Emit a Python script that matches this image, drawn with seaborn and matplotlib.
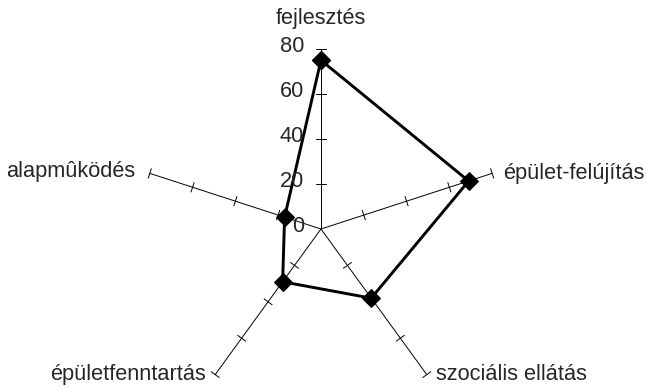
import numpy as np
import pandas as pd
import matplotlib
matplotlib.use("Agg")
import matplotlib.pyplot as plt
import seaborn as sns

# Categories (clockwise from the top) and their values
categories = ["fejlesztés", "épület-felújítás", "szociális ellátás",
              "épületfenntartás", "alapmûködés"]
values = [75, 69, 38, 29, 17]
tick_values = [0, 20, 40, 60, 80]
r_max = 80

sns.set_style("white")
plt.rcParams["font.family"] = ["Liberation Sans", "DejaVu Sans"]

fig = plt.figure(figsize=(6.47, 3.87), dpi=100)
ax = fig.add_axes([0.2179, -0.0568, 0.5564, 0.9302], projection="polar")
ax.set_theta_zero_location("N")
ax.set_theta_direction(-1)
ax.set_ylim(0, r_max)
ax.grid(False)
ax.spines["polar"].set_visible(False)
ax.set_xticks([])
ax.set_yticks([])
ax.patch.set_alpha(0)

n = len(categories)
angles = np.arange(n) * 2 * np.pi / n

# Spokes with cross tick marks
half = 2.2
for t in angles:
    ax.plot([t, t], [0, r_max], color="black", lw=0.7, clip_on=False, zorder=1)
    for r in tick_values[1:]:
        d = np.arctan2(half, r)
        rr = np.hypot(r, half)
        ax.plot([t - d, t + d], [rr, rr], color="black", lw=0.7,
                clip_on=False, zorder=1)

# Data polygon
df = pd.DataFrame({"theta": np.append(angles, angles[0]),
                   "value": values + values[:1]})
sns.lineplot(data=df, x="theta", y="value", sort=False, estimator=None,
             color="black", lw=2.1, marker="D", markersize=9.5,
             markeredgecolor="black", ax=ax, zorder=3)
for ln in ax.lines:
    ln.set_clip_on(False)
ax.set_xlabel("")
ax.set_ylabel("")
ax.set_ylim(0, r_max)

fs = 15.7
# Value scale on the top spoke
for v in tick_values:
    ax.annotate(str(v), xy=(0, v), xytext=(-17, 2), textcoords="offset pixels",
                ha="right", va="center", fontsize=fs)

# Category labels at the spoke ends
label_offsets = [(0, 30, "center", "center"),
                 (11, 0, "left", "center"),
                 (9, 0, "left", "center"),
                 (-9, 0, "right", "center"),
                 (-15, 2, "right", "center")]
for t, name, (dx, dy, ha, va) in zip(angles, categories, label_offsets):
    ax.annotate(name, xy=(t, r_max), xytext=(dx, dy), textcoords="offset pixels",
                ha=ha, va=va, fontsize=fs, annotation_clip=False)

fig.savefig("out.png", dpi=100)
